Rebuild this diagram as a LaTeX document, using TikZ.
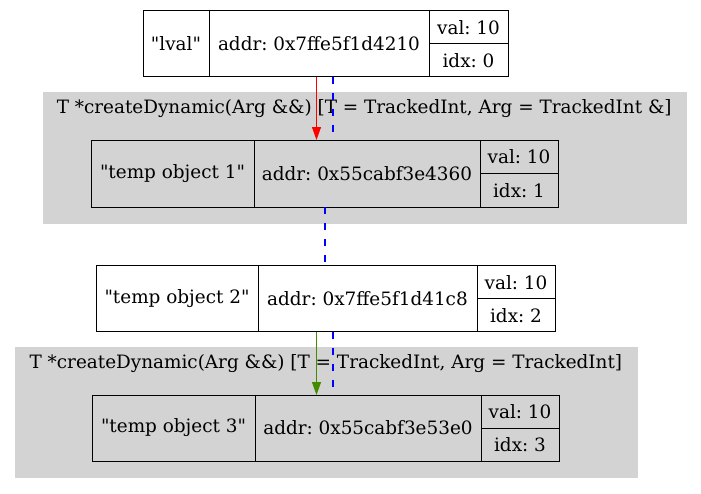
\documentclass[tikz,border=0pt]{standalone}
\usepackage{fontspec}
\usetikzlibrary{arrows.meta,positioning}
\newfontfamily\gvfont{DejaVu Serif}
\definecolor{ClusterGrey}{HTML}{D3D3D3}
\definecolor{MoveRed}{HTML}{FF0000}
\definecolor{CopyGreen}{HTML}{458B00}
\definecolor{SameBlue}{HTML}{0000FF}

\begin{document}
\begin{tikzpicture}[x=1pt,y=-1pt,
    cell/.style={draw,line width=1pt,inner sep=0pt,outer sep=0pt,
                 font=\gvfont\fontsize{18.4}{22}\selectfont\frenchspacing},
    halfcell/.style={cell,minimum width=78},
    cluster/.style={fill=ClusterGrey,draw=ClusterGrey,inner sep=0pt},
    clabel/.style={anchor=base,inner sep=0pt,font=\gvfont\fontsize{18.4}{22}\selectfont},
    arr/.style={-{Triangle[length=13pt,width=9pt]},line width=1pt},
    samevar/.style={draw=SameBlue,line width=1.6pt,dash pattern=on 7pt off 9pt}]
  \useasboundingbox (0,0) rectangle (701,493);
  % function frames
  \node[cluster,minimum width=643,minimum height=131] (funcA) at (364.2,157.8) {};
  \node[cluster,minimum width=621.7,minimum height=130] (funcB) at (325.9,412.3) {};
  \node[clabel] (funcAlabel) at ([yshift=-21pt]funcA.north)
    {T *createDynamic(Arg \&\&) [T = TrackedInt, Arg = TrackedInt \&]};
  \node[clabel] (funcBlabel) at ([yshift=-21pt]funcB.north)
    {T *createDynamic(Arg \&\&) [T = TrackedInt, Arg = TrackedInt]};
  % lval
  \node[cell,minimum width=66,minimum height=66,anchor=north west] (lvalname) at (143,10.7) {"lval"};
  \node[cell,minimum width=220,minimum height=66,right=0pt of lvalname] (lvaladdr) {addr: 0x7ffe5f1d4210};
  \node[halfcell,minimum width=79,minimum height=33,anchor=north west] (lvalval) at (lvaladdr.north east) {val: 10};
  \node[halfcell,minimum width=79,minimum height=33,below=0pt of lvalval] (lvalidx) {idx: 0};
  % temp object 1
  \node[cell,minimum width=163,minimum height=67,anchor=north west] (tempAname) at (91,140) {"temp object 1"};
  \node[cell,minimum width=226,minimum height=67,right=0pt of tempAname] (tempAaddr) {addr: 0x55cabf3e4360};
  \node[halfcell,minimum height=33.5,anchor=north west] (tempAval) at (tempAaddr.north east) {val: 10};
  \node[halfcell,minimum height=33.5,below=0pt of tempAval] (tempAidx) {idx: 1};
  % temp object 2
  \node[cell,minimum width=162,minimum height=66,anchor=north west] (tempBname) at (96,265.7) {"temp object 2"};
  \node[cell,minimum width=219,minimum height=66,right=0pt of tempBname] (tempBaddr) {addr: 0x7ffe5f1d41c8};
  \node[halfcell,minimum height=33,anchor=north west] (tempBval) at (tempBaddr.north east) {val: 10};
  \node[halfcell,minimum height=33,below=0pt of tempBval] (tempBidx) {idx: 2};
  % temp object 3
  \node[cell,minimum width=163,minimum height=66,anchor=north west] (tempCname) at (92,395) {"temp object 3"};
  \node[cell,minimum width=226,minimum height=66,right=0pt of tempCname] (tempCaddr) {addr: 0x55cabf3e53e0};
  \node[halfcell,minimum height=33,anchor=north west] (tempCval) at (tempCaddr.north east) {val: 10};
  \node[halfcell,minimum height=33,below=0pt of tempCval] (tempCidx) {idx: 3};
  % edges
  \draw[arr,MoveRed] ([xshift=-2.5pt]lvaladdr.south) -- ([xshift=-2.5pt]lvaladdr.south |- tempAaddr.north);
  \draw[samevar] ([xshift=14pt]lvaladdr.south) -- ([xshift=14pt]lvaladdr.south |- tempAaddr.north);
  \draw[samevar] ([xshift=-42pt]tempAaddr.south) -- ([xshift=-42pt]tempAaddr.south |- tempBaddr.north);
  \draw[arr,CopyGreen] ([xshift=-51pt]tempBaddr.south) -- ([xshift=-51pt]tempBaddr.south |- tempCaddr.north);
  \draw[samevar] ([xshift=-34.5pt]tempBaddr.south) -- ([xshift=-34.5pt]tempBaddr.south |- tempCaddr.north);
\end{tikzpicture}
\end{document}
